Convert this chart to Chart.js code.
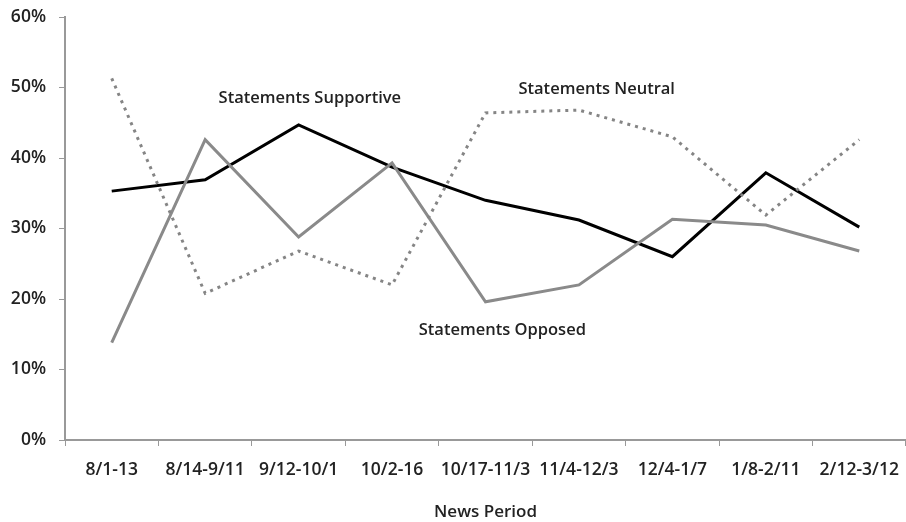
<!DOCTYPE html>
<html>
<head>
<meta charset="utf-8">
<script src="https://cdn.jsdelivr.net/npm/chart.js@4"></script>
<style>
  html, body { margin: 0; padding: 0; background: #fff; }
  #wrap { width: 906px; height: 522px; position: relative; }
</style>
</head>
<body>
<div id="wrap"><canvas id="newsChart"></canvas></div>
<script>
const periods = ['8/1-13', '8/14-9/11', '9/12-10/1', '10/2-16', '10/17-11/3', '11/4-12/3', '12/4-1/7', '1/8-2/11', '2/12-3/12'];
const supportive = [35.3, 36.9, 44.7, 38.7, 34.0, 31.2, 26.0, 37.9, 30.2];
const opposed = [13.8, 42.6, 28.8, 39.3, 19.6, 22.0, 31.3, 30.5, 26.8];
const neutral = [51.3, 20.8, 26.8, 22.0, 46.4, 46.8, 43.0, 31.9, 42.6];
const yTicks = [0, 10, 20, 30, 40, 50, 60];

const FONT = "'Open Sans', 'Noto Sans', sans-serif";

// series names written inside the plot, placed by category index and value
const seriesLabels = [
  { text: 'Statements Supportive', idx: 2.12, val: 48.4 },
  { text: 'Statements Neutral', idx: 5.19, val: 49.8 },
  { text: 'Statements Opposed', idx: 4.18, val: 15.6 }
];

const labelPlugin = {
  id: 'seriesLabels',
  afterDatasetsDraw(chart) {
    const ctx = chart.ctx;
    const xs = chart.scales.x, ys = chart.scales.y;
    ctx.save();
    ctx.font = '600 16.5px ' + FONT;
    ctx.fillStyle = '#222';
    ctx.textAlign = 'center';
    ctx.textBaseline = 'middle';
    seriesLabels.forEach(l => {
      ctx.fillText(l.text, xs.getPixelForValue(l.idx), ys.getPixelForValue(l.val));
    });
    ctx.restore();
  }
};

new Chart(document.getElementById('newsChart'), {
  type: 'line',
  data: {
    labels: periods,
    datasets: [
      { label: 'Statements Neutral', data: neutral, borderColor: '#858585', borderWidth: 3, borderDash: [3, 5], pointRadius: 0, tension: 0 },
      { label: 'Statements Opposed', data: opposed, borderColor: '#8a8a8a', borderWidth: 3, pointRadius: 0, tension: 0 },
      { label: 'Statements Supportive', data: supportive, borderColor: '#000', borderWidth: 3, pointRadius: 0, tension: 0 }
    ]
  },
  options: {
    responsive: true,
    maintainAspectRatio: false,
    animation: false,
    layout: { padding: { top: 17, right: 0, left: 0, bottom: 0 } },
    plugins: { legend: { display: false }, tooltip: { enabled: false } },
    scales: {
      x: {
        offset: true,
        afterFit(scale) { scale.height = 82; scale.paddingLeft = 0; scale.paddingRight = 0; },
        grid: { offset: true, drawOnChartArea: false, tickLength: 6, color: '#999', lineWidth: 1 },
        border: { color: '#999', width: 2 },
        ticks: { color: '#222', font: { family: FONT, size: 17.5, weight: '600' }, padding: 14, maxRotation: 0, autoSkip: false },
        title: { display: true, text: 'News Period', color: '#222', font: { family: FONT, size: 17, weight: '600' }, padding: { top: 0, bottom: 0 } }
      },
      y: {
        min: 0,
        max: 60,
        afterFit(scale) { scale.width = 65; scale.paddingTop = 0; scale.paddingBottom = 0; },
        afterBuildTicks(scale) { scale.ticks = yTicks.map(v => ({ value: v })); },
        grid: { drawOnChartArea: false, tickLength: 6, color: '#999', lineWidth: 1 },
        border: { color: '#999', width: 2 },
        ticks: { color: '#222', font: { family: FONT, size: 17.5, weight: '600' }, padding: 13, callback: v => v + '%' }
      }
    }
  },
  plugins: [labelPlugin]
});
</script>
</body>
</html>
